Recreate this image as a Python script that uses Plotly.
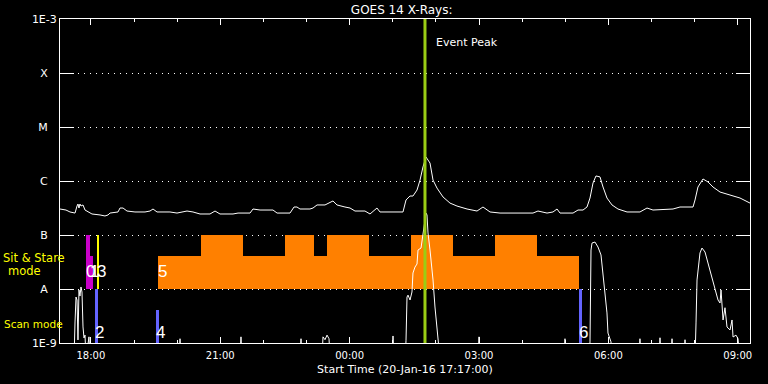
import plotly.graph_objects as go
import pandas as pd

START = pd.Timestamp("2016-01-20 17:17:00")
SPAN_MIN = 960  # 16 hours shown

# GOES 14 long channel (1-8 A): minutes after start, flux (W/m^2)
long_min = [0, 8.3, 13.9, 20.9, 23.7, 25.0, 26.4, 27.8, 29.2, 32.0, 34.8, 39.0, 44.5, 55.7, 62.6,
            66.8, 69.6, 80.7, 83.5, 87.7, 93.2, 104.3, 118.3, 125.2, 129.4, 135.0, 153.0, 162.8,
            176.7, 185.0, 194.8, 208.7, 215.7, 222.6, 240.7, 247.7, 264.4, 268.5, 278.3, 296.3,
            302.0, 320.0, 325.6, 329.7, 333.9, 347.8, 352.0, 357.6, 368.7, 379.8, 385.4, 396.5,
            403.5, 410.4, 424.3, 431.3, 436.9, 441.0, 445.2, 477.2, 481.4, 486.9, 491.1, 496.7,
            500.9, 505.0, 509.2, 514.8, 519.0, 524.5, 532.9, 542.6, 552.3, 566.3, 580.2, 588.5,
            598.3, 612.2, 658.1, 665.0, 677.6, 685.9, 691.5, 695.7, 713.8, 720.7, 727.7, 733.2,
            737.4, 741.6, 745.7, 751.3, 755.5, 761.0, 768.0, 776.3, 788.9, 806.9, 816.7, 825.0,
            852.9, 862.6, 880.7, 883.5, 887.6, 894.6, 901.6, 908.5, 918.3, 932.2, 946.1, 960.0]
long_flux = [3.03e-7, 2.9e-7, 2.67e-7, 2.55e-7, 3.44e-7, 3.75e-7, 3.16e-7, 3.75e-7, 3.44e-7, 3.6e-7,
             2.9e-7, 2.67e-7, 2.45e-7, 2.35e-7, 2.25e-7, 2.35e-7, 2.55e-7, 2.67e-7, 3.16e-7, 3.16e-7,
             2.78e-7, 2.67e-7, 2.67e-7, 2.78e-7, 3.03e-7, 2.67e-7, 2.67e-7, 2.55e-7, 2.78e-7, 2.67e-7,
             2.45e-7, 2.45e-7, 2.78e-7, 2.45e-7, 2.45e-7, 2.55e-7, 2.55e-7, 3.03e-7, 2.9e-7, 2.9e-7,
             2.55e-7, 2.55e-7, 3.3e-7, 3.3e-7, 3.03e-7, 3.03e-7, 3.16e-7, 3.6e-7, 3.6e-7, 4.27e-7,
             3.6e-7, 3.3e-7, 3.16e-7, 2.78e-7, 2.78e-7, 2.45e-7, 2.78e-7, 3.16e-7, 2.67e-7, 2.67e-7,
             4.45e-7, 5.27e-7, 5.27e-7, 6.8e-7, 1.04e-6, 1.82e-6, 2.78e-6, 2.15e-6, 1.04e-6, 7.4e-7,
             5.06e-7, 3.9e-7, 3.44e-7, 3.03e-7, 2.78e-7, 3.3e-7, 2.67e-7, 2.55e-7, 2.55e-7, 2.78e-7,
             2.55e-7, 2.67e-7, 3.03e-7, 2.55e-7, 2.55e-7, 2.9e-7, 2.9e-7, 3.3e-7, 4.84e-7, 9.2e-7,
             1.24e-6, 1.19e-6, 7.74e-7, 4.84e-7, 3.6e-7, 3.03e-7, 2.67e-7, 2.67e-7, 3.16e-7, 2.9e-7,
             3.03e-7, 3.3e-7, 3.3e-7, 4.45e-7, 7.74e-7, 1.09e-6, 9.6e-7, 7.74e-7, 6.25e-7, 5.5e-7,
             4.84e-7, 3.9e-7]

# GOES 14 short channel (0.5-4 A): minutes after start, flux (W/m^2); 5e-10 = below plot floor
short_min = [0, 19.5, 20.9, 22.3, 23.7, 25.0, 26.4, 27.8, 29.2, 30.6, 32.0, 33.4, 34.8, 36.2, 40.3,
             41.7, 165.6, 167.0, 168.3, 250.4, 251.8, 253.2, 333.9, 335.3, 336.7, 364.5, 365.9,
             368.7, 371.5, 374.3, 375.7, 461.9, 463.3, 464.7, 480.0, 481.4, 482.8, 484.2, 487.0,
             489.7, 491.1, 493.9, 496.7, 498.1, 502.3, 505.0, 509.2, 510.6, 512.0, 514.8, 517.6,
             519.0, 521.7, 524.5, 527.3, 528.7, 581.6, 583.0, 584.3, 701.2, 702.6, 704.0, 736.0,
             737.4, 738.8, 740.2, 744.3, 748.5, 752.7, 755.5, 758.3, 761.0, 762.4, 766.6, 768.0,
             805.5, 806.9, 808.3, 833.4, 834.8, 836.2, 850.1, 851.5, 852.9, 868.2, 869.6, 871.0,
             883.5, 884.9, 886.3, 890.4, 893.2, 897.4, 901.6, 907.1, 911.3, 915.5, 918.3, 919.7,
             922.5, 925.2, 928.0, 932.2, 935.0, 936.4, 940.5, 943.3, 946.1, 960.0]
short_flux = [5e-10, 5e-10, 2.45e-9, 7.1e-9, 6.25e-9, 1.14e-9, 9.6e-9, 7.4e-9, 1.09e-8, 8.8e-9,
              1.98e-9, 1.24e-9, 1.4e-9, 5e-10, 1.3e-9, 5e-10, 5e-10, 1.2e-9, 5e-10, 5e-10, 1.3e-9,
              5e-10, 5e-10, 1.2e-9, 5e-10, 5e-10, 1.3e-9, 1.15e-9, 1.4e-9, 1.2e-9, 5e-10, 5e-10,
              1.35e-9, 5e-10, 5e-10, 1.1e-9, 7.1e-9, 7.7e-9, 6.25e-9, 8.8e-9, 1.98e-8, 2.55e-8,
              2.9e-8, 5.27e-8, 5.74e-8, 1.09e-7, 2.55e-7, 2.35e-7, 1.09e-7, 5.27e-8, 2.55e-8,
              1.47e-8, 4.64e-9, 1.98e-9, 1.04e-9, 5e-10, 5e-10, 1.3e-9, 5e-10, 5e-10, 1.2e-9, 5e-10,
              5e-10, 1.05e-9, 5.27e-8, 7.1e-8, 7.4e-8, 6e-8, 4.27e-8, 1.98e-8, 8.4e-9, 3.6e-9,
              1.53e-9, 1.05e-9, 5e-10, 5e-10, 1.2e-9, 5e-10, 5e-10, 1.25e-9, 5e-10, 5e-10, 1.2e-9,
              5e-10, 5e-10, 1.15e-9, 5e-10, 5e-10, 2.35e-9, 1.47e-8, 4.64e-8, 5.74e-8, 4.84e-8,
              3.03e-8, 1.67e-8, 9.6e-9, 6.25e-9, 5.5e-9, 9.6e-9, 2.67e-9, 4.5e-9, 1.98e-9, 1.74e-9,
              2.67e-9, 1.29e-9, 1.4e-9, 1.2e-9, 5e-10, 5e-10]

# Observations (minutes after start): label, start, end, bottom flux, top flux, colour
obs_label = ["0", "1", "2", "3", "4", "6"]
obs_start = [36.2, 41.3, 48.2, 51.9, 133.6, 722.1]
obs_end = [41.3, 45.9, 52.5, 53.3, 137.7, 726.3]
obs_bottom = [1e-8, 1e-8, 1e-9, 1e-8, 1e-9, 1e-9]
obs_top = [1e-7, 4.08e-8, 1e-8, 1e-7, 4.08e-9, 1e-8]
obs_mode = ["sit", "sit", "scan", "sit", "scan", "scan"]
obs_color = ["#c800c8", "#c800c8", "#6464ff", "#ffff00", "#6464ff", "#6464ff"]

# Observation 5 (sit & stare, orange): stepped segments
obs5_start = [136.3, 196.2, 254.6, 313.0, 353.4, 371.5, 429.9, 488.3, 546.8, 605.2, 663.7]
obs5_end = [196.2, 254.6, 313.0, 353.4, 371.5, 429.9, 488.3, 546.8, 605.2, 663.7, 722.1]
obs5_top = [4.08e-8, 1e-7, 4.08e-8, 1e-7, 4.08e-8, 1e-7, 4.08e-8, 1e-7, 4.08e-8, 1e-7, 4.08e-8]
obs5_bottom = 1e-8

event_peak_min = 507.8

y_tickvals = [1e-9, 1e-8, 1e-7, 1e-6, 1e-5, 1e-4, 1e-3]
y_ticktext = ["1E-9", "A", "B", "C", "M", "X", "1E-3"]


def t(m):
    return START + pd.to_timedelta(m, unit="min")


FONT = "DejaVu Sans"
fig = go.Figure()

# observation bars
fig.add_trace(go.Bar(
    x=[t(s) for s in obs5_start],
    y=[tp - obs5_bottom for tp in obs5_top],
    base=[obs5_bottom] * len(obs5_top),
    width=[(e - s) * 60000 for s, e in zip(obs5_start, obs5_end)],
    offset=0, marker=dict(color="#ff8000", line=dict(width=0)), showlegend=False,
))
fig.add_trace(go.Bar(
    x=[t(s) for s in obs_start],
    y=[tp - b for tp, b in zip(obs_top, obs_bottom)],
    base=obs_bottom,
    width=[(e - s) * 60000 for s, e in zip(obs_start, obs_end)],
    offset=0, marker=dict(color=obs_color, line=dict(width=0)), showlegend=False,
))

# GOES curves
fig.add_trace(go.Scatter(x=[t(m) for m in long_min], y=long_flux, mode="lines",
                         line=dict(color="white", width=1), showlegend=False))
fig.add_trace(go.Scatter(x=[t(m) for m in short_min], y=short_flux, mode="lines",
                         line=dict(color="white", width=1), showlegend=False))

# event peak line
fig.add_shape(type="line", xref="x", yref="paper", x0=t(event_peak_min), x1=t(event_peak_min),
              y0=0, y1=1, line=dict(color="#9acd14", width=3), layer="above")
fig.add_annotation(x=t(event_peak_min), xref="x", y=0.926, yref="paper", text="Event Peak",
                   showarrow=False, xanchor="left", yanchor="middle", xshift=9,
                   font=dict(family=FONT, size=11, color="white"))

# observation number labels
labels = list(zip(obs_label, obs_start, obs_mode)) + [("5", obs5_start[0], "sit")]
for lab, s, mode in labels:
    fig.add_annotation(x=t(s), xref="x", y=0.222 if mode == "sit" else 0.031, yref="paper",
                       text=lab, showarrow=False, xanchor="left", yanchor="middle",
                       xshift=-2, font=dict(family="Liberation Sans", size=17, color="white"))

# mode labels
fig.add_annotation(x=-0.0377, xref="paper", y=0.262, yref="paper", text="Sit & Stare",
                   showarrow=False, xanchor="center", yanchor="middle",
                   font=dict(family=FONT, size=11.5, color="#ffff00"))
fig.add_annotation(x=-0.0517, xref="paper", y=0.222, yref="paper", text="mode",
                   showarrow=False, xanchor="center", yanchor="middle",
                   font=dict(family=FONT, size=11.5, color="#ffff00"))
fig.add_annotation(x=-0.0845, xref="paper", y=0.0586, yref="paper", text="Scan mode",
                   showarrow=False, xanchor="left", yanchor="middle",
                   font=dict(family=FONT, size=10.5, color="#ffff00"))

pad = "\u2002\u00a0"
fig.update_layout(
    width=768, height=384,
    margin=dict(l=60, r=18, t=19, b=41, autoexpand=False),
    paper_bgcolor="black", plot_bgcolor="black",
    barmode="overlay", bargap=0,
    title=dict(text="GOES 14 X-Rays:", x=0.523, xref="container", xanchor="center",
               y=0.975, yref="container", yanchor="middle",
               font=dict(family=FONT, size=12, color="white")),
    xaxis=dict(
        type="date", range=[t(0), t(SPAN_MIN)], automargin=False,
        showgrid=False, zeroline=False,
        showline=True, linecolor="white", linewidth=1, mirror="allticks",
        ticks="inside", ticklen=6, tickcolor="white", tickwidth=1,
        tick0="2016-01-20 18:00:00", dtick=3 * 3600000, tickformat="%H:%M",
        tickfont=dict(family=FONT, size=10, color="white"),
        ticklabelstandoff=3,
        minor=dict(ticks="inside", ticklen=3, tickcolor="white", dtick=3600000,
                   tick0="2016-01-20 18:00:00", showgrid=False),
        title=dict(text="Start Time (20-Jan-16 17:17:00)", standoff=5,
                   font=dict(family=FONT, size=11, color="white")),
    ),
    yaxis=dict(
        type="log", range=[-9, -3], automargin=False,
        tickmode="array", tickvals=y_tickvals,
        ticktext=[tx if len(tx) > 1 else tx + pad for tx in y_ticktext],
        showgrid=True, gridcolor="white", gridwidth=1, griddash="1px,5px",
        zeroline=False,
        showline=True, linecolor="white", linewidth=1, mirror="allticks",
        ticks="inside", ticklen=14, tickcolor="white", tickwidth=1,
        tickfont=dict(family=FONT, size=11, color="white"),
    ),
)

fig.write_html("out.html")
